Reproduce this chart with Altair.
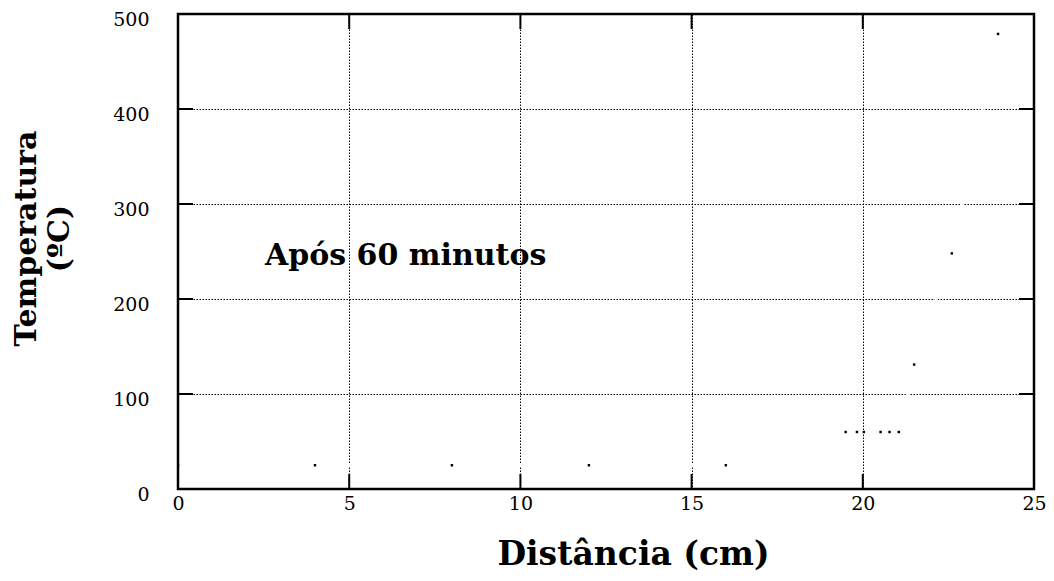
import altair as alt
import pandas as pd

# data
dist = [0, 4, 8, 12, 16, 19.5, 19.83, 20.03, 20.52, 20.78, 21.05, 21.5, 22.6, 23.95]
temp = [25, 25, 25, 25, 25, 60, 60, 60, 60, 60, 60, 131, 248, 479]

x_ticks = [0, 5, 10, 15, 20, 25]
y_ticks = [0, 100, 200, 300, 400, 500]

X_MIN, X_MAX = 0, 25
Y_MIN, Y_MAX = 0, 500
W, H = 856, 475
TICK_PX = 15
tick_dy = TICK_PX * (Y_MAX - Y_MIN) / H   # inward tick length in y units
tick_dx = TICK_PX * (X_MAX - X_MIN) / W   # inward tick length in x units

df = pd.DataFrame({"d": dist, "t": temp})
df_xt = pd.DataFrame({
    "v": x_ticks * 2,
    "a": [Y_MIN] * len(x_ticks) + [Y_MAX] * len(x_ticks),
    "b": [Y_MIN + tick_dy] * len(x_ticks) + [Y_MAX - tick_dy] * len(x_ticks),
})
df_yt = pd.DataFrame({
    "v": y_ticks * 2,
    "a": [X_MIN] * len(y_ticks) + [X_MAX] * len(y_ticks),
    "b": [X_MIN + tick_dx] * len(y_ticks) + [X_MAX - tick_dx] * len(y_ticks),
})
df_note = pd.DataFrame({"d": [2.54], "t": [245], "txt": ["Após 60 minutos"]})
df_frame = pd.DataFrame({"x0": [X_MIN], "x1": [X_MAX], "y0": [Y_MIN], "y1": [Y_MAX]})

FONT = "DejaVu Serif"

xs = alt.Scale(domain=[X_MIN, X_MAX], nice=False, zero=False)
ys = alt.Scale(domain=[Y_MIN, Y_MAX], nice=False, zero=False)

x_axis = alt.Axis(
    values=x_ticks, grid=True, gridColor="black", gridDash=[1.5, 1.5], gridWidth=1,
    gridOpacity=1, domain=False, ticks=False, labelFont=FONT, labelFontSize=19,
    labelColor="black", labelPadding=5, labelFlush=False,
    title="Distância (cm)", titleFont=FONT, titleFontSize=33, titleFontWeight="bold",
    titleColor="black", titleX=455, titleY=75, titleBaseline="alphabetic",
    titleAlign="center",
)
y_axis = alt.Axis(
    values=y_ticks, grid=True, gridColor="black", gridDash=[1.5, 1.5], gridWidth=1,
    gridOpacity=1, domain=False, ticks=False, labelFont=FONT, labelFontSize=19,
    labelColor="black", labelPadding=29, labelFlush=False, labelOffset=5,
    title=["Temperatura", "(ºC)"], titleFont=FONT, titleFontSize=30,
    titleFontWeight="bold", titleColor="black", titleAngle=270,
    titleX=-143, titleY=224, titleAlign="center", titleBaseline="alphabetic",
    titleLineHeight=33,
)

base = alt.Chart(df)

trace = base.mark_line(color="white", strokeWidth=3, clip=True).encode(
    x=alt.X("d:Q", scale=xs, axis=x_axis),
    y=alt.Y("t:Q", scale=ys, axis=y_axis),
)
dots = base.mark_square(color="black", size=6, opacity=1, clip=True).encode(
    x=alt.X("d:Q", scale=xs),
    y=alt.Y("t:Q", scale=ys),
)

xticks_l = alt.Chart(df_xt).mark_rule(color="black", strokeWidth=2).encode(
    x=alt.X("v:Q", scale=xs), y=alt.Y("a:Q", scale=ys), y2="b:Q")
yticks_l = alt.Chart(df_yt).mark_rule(color="black", strokeWidth=2).encode(
    y=alt.Y("v:Q", scale=ys), x=alt.X("a:Q", scale=xs), x2="b:Q")

frame = alt.Chart(df_frame).mark_rect(fill=None, stroke="black", strokeWidth=2.5,
                                      fillOpacity=0).encode(
    x=alt.X("x0:Q", scale=xs), x2="x1:Q",
    y=alt.Y("y0:Q", scale=ys), y2="y1:Q")

note = alt.Chart(df_note).mark_text(font=FONT, fontSize=30, fontWeight="bold",
                                    align="left", baseline="middle",
                                    color="black").encode(
    x=alt.X("d:Q", scale=xs), y=alt.Y("t:Q", scale=ys), text="txt:N")

chart = alt.layer(trace, xticks_l, yticks_l, frame, dots, note).properties(
    width=W, height=H,
    autosize=alt.AutoSizeParams(type="none"),
    padding={"left": 170, "top": 6, "right": 12, "bottom": 84},
).configure_view(
    stroke=None, fill="white"
).configure(background="white")

chart.save("out.html", embed_options={"renderer": "svg", "actions": False})
